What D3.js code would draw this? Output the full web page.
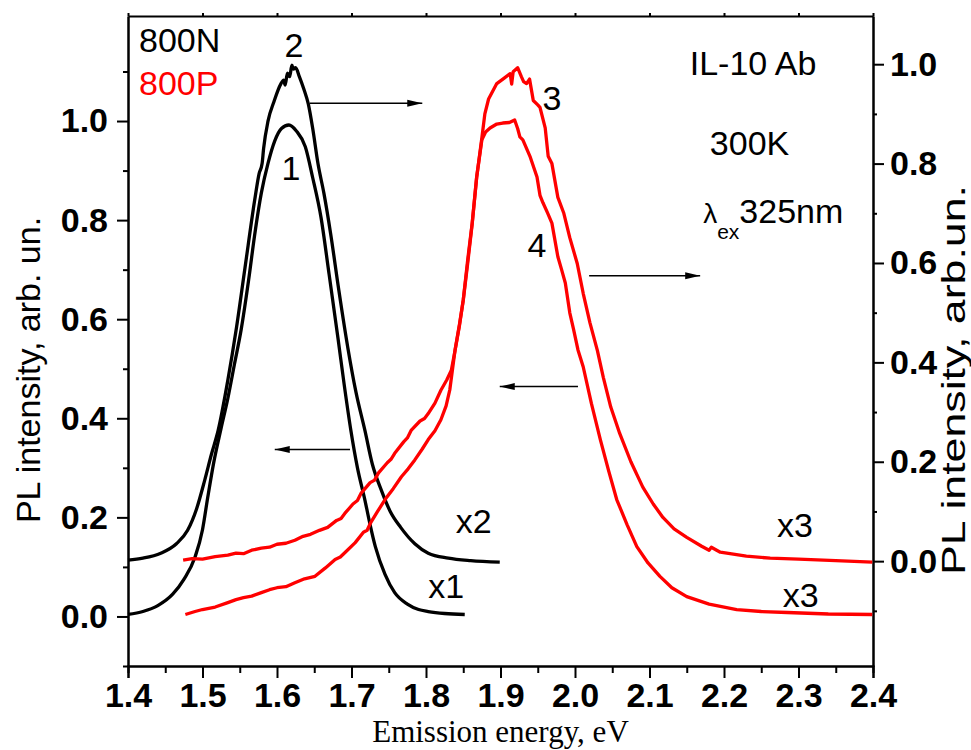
<!DOCTYPE html>
<html>
<head>
<meta charset="utf-8">
<script src="https://cdn.jsdelivr.net/npm/d3@7/dist/d3.min.js"></script>
<style>
  body { margin: 0; background: #fff; }
  text { font-family: "Liberation Sans", Arial, sans-serif; }
  .tick text { font-weight: bold; font-size: 34px; fill: #000; }
  .tick line, .domain { stroke: #000; stroke-width: 2; }
</style>
</head>
<body>
<div id="chart"></div>
<script>
// PL spectra, [energy eV, intensity]
// curve 1: 800N, left axis
var curve1 = [[1.400,0.004],[1.420,0.010],[1.440,0.022],[1.460,0.045],[1.475,0.075],[1.490,0.120],[1.500,0.175],
  [1.507,0.240],[1.515,0.310],[1.525,0.380],[1.534,0.440],[1.543,0.510],[1.552,0.580],[1.562,0.680],[1.570,0.770],
  [1.579,0.855],[1.588,0.915],[1.597,0.960],[1.606,0.985],[1.616,0.992],[1.626,0.980],[1.638,0.948],[1.648,0.885],
  [1.659,0.806],[1.670,0.690],[1.682,0.560],[1.690,0.470],[1.699,0.377],[1.708,0.300],[1.718,0.235],[1.725,0.185],
  [1.732,0.141],[1.745,0.085],[1.758,0.048],[1.775,0.025],[1.790,0.014],[1.803,0.010],[1.825,0.006],[1.852,0.004]]

// curve 2: 800N, right axis
var curve2 = [[1.400,0.002],[1.420,0.006],[1.444,0.016],[1.465,0.035],[1.480,0.062],[1.492,0.105],[1.503,0.163],
  [1.512,0.215],[1.521,0.263],[1.534,0.364],[1.545,0.464],[1.557,0.590],[1.570,0.726],[1.576,0.780],[1.580,0.800],
  [1.582,0.830],[1.588,0.886],[1.596,0.925],[1.605,0.960],[1.609,0.968],[1.611,0.958],[1.614,0.982],[1.617,0.975],
  [1.620,0.998],[1.622,0.990],[1.625,0.993],[1.630,0.975],[1.636,0.950],[1.642,0.920],[1.648,0.870],[1.655,0.800],
  [1.663,0.740],[1.672,0.659],[1.683,0.545],[1.695,0.430],[1.706,0.340],[1.718,0.263],[1.728,0.195],[1.740,0.143],
  [1.752,0.100],[1.766,0.068],[1.785,0.035],[1.803,0.016],[1.830,0.006],[1.860,0.001],[1.899,-0.002]]

// curve 3: 800P, right axis
var curve3 = [[1.474,0.002],[1.486,0.005],[1.500,0.004],[1.517,0.009],[1.534,0.012],[1.545,0.016],[1.555,0.015],
  [1.566,0.022],[1.579,0.026],[1.590,0.028],[1.600,0.034],[1.612,0.036],[1.624,0.042],[1.635,0.050],[1.645,0.054],
  [1.657,0.062],[1.668,0.068],[1.680,0.082],[1.686,0.086],[1.691,0.096],[1.702,0.115],[1.708,0.122],[1.713,0.137],
  [1.725,0.158],[1.731,0.163],[1.736,0.177],[1.748,0.198],[1.753,0.205],[1.758,0.217],[1.770,0.240],[1.775,0.248],
  [1.780,0.263],[1.792,0.282],[1.798,0.287],[1.803,0.297],[1.812,0.318],[1.820,0.344],[1.828,0.365],[1.834,0.384],
  [1.839,0.424],[1.845,0.475],[1.850,0.525],[1.856,0.600],[1.862,0.679],[1.868,0.772],[1.875,0.852],[1.879,0.900],
  [1.884,0.930],[1.895,0.961],[1.905,0.972],[1.913,0.981],[1.915,0.960],[1.917,0.985],[1.923,0.993],[1.928,0.975],
  [1.931,0.965],[1.935,0.961],[1.939,0.970],[1.944,0.927],[1.950,0.918],[1.953,0.913],[1.960,0.872],[1.964,0.815],
  [1.969,0.800],[1.977,0.732],[1.985,0.700],[1.993,0.651],[2.003,0.599],[2.011,0.539],[2.020,0.480],[2.030,0.424],
  [2.038,0.370],[2.048,0.310],[2.060,0.257],[2.075,0.200],[2.091,0.149],[2.105,0.115],[2.118,0.088],[2.133,0.065],
  [2.150,0.048],[2.170,0.030],[2.180,0.022],[2.183,0.028],[2.195,0.018],[2.230,0.010],[2.262,0.006],[2.300,0.004],
  [2.350,0.001],[2.399,-0.002]]

// curve 4: 800P, left axis
var curve4 = [[1.477,0.004],[1.490,0.010],[1.500,0.014],[1.517,0.019],[1.534,0.028],[1.545,0.034],[1.555,0.038],
  [1.566,0.041],[1.579,0.048],[1.590,0.054],[1.600,0.058],[1.612,0.060],[1.624,0.068],[1.637,0.076],[1.651,0.081],
  [1.665,0.098],[1.678,0.115],[1.685,0.120],[1.692,0.130],[1.705,0.149],[1.716,0.170],[1.721,0.174],[1.726,0.190],
  [1.735,0.212],[1.745,0.236],[1.756,0.258],[1.767,0.282],[1.776,0.298],[1.785,0.316],[1.795,0.338],[1.803,0.357],
  [1.812,0.375],[1.820,0.397],[1.827,0.425],[1.832,0.458],[1.839,0.538],[1.845,0.590],[1.850,0.639],[1.856,0.720],
  [1.862,0.794],[1.868,0.887],[1.875,0.962],[1.880,0.978],[1.886,0.986],[1.895,0.994],[1.903,0.996],[1.912,0.997],
  [1.919,1.002],[1.923,0.985],[1.926,0.968],[1.930,0.962],[1.940,0.927],[1.949,0.887],[1.953,0.850],[1.957,0.835],
  [1.963,0.815],[1.969,0.794],[1.977,0.726],[1.982,0.700],[1.987,0.673],[1.993,0.613],[1.998,0.580],[2.004,0.538],
  [2.011,0.504],[2.022,0.430],[2.034,0.357],[2.045,0.295],[2.056,0.236],[2.070,0.185],[2.083,0.141],[2.098,0.108],
  [2.114,0.081],[2.130,0.058],[2.150,0.040],[2.180,0.025],[2.217,0.014],[2.250,0.010],[2.285,0.008],[2.340,0.005],
  [2.399,0.004]]

// ticks
var xTicks = [1.4, 1.5, 1.6, 1.7, 1.8, 1.9, 2.0, 2.1, 2.2, 2.3, 2.4]
var xMinor = [1.45, 1.55, 1.65, 1.75, 1.85, 1.95, 2.05, 2.15, 2.25, 2.35]
var leftTicks = [0.0, 0.2, 0.4, 0.6, 0.8, 1.0]
var leftMinor = [-0.1, 0.1, 0.3, 0.5, 0.7, 0.9, 1.1]
var rightTicks = [0.0, 0.2, 0.4, 0.6, 0.8, 1.0]
var rightMinor = [-0.1, 0.1, 0.3, 0.5, 0.7, 0.9]

// annotations, placed in left-axis units
var labels = [
  { t: '800N', x: 1.4148, y: 1.139, c: '#000', a: 'start' },
  { t: '800P', x: 1.4148, y: 1.052, c: '#ff0000', a: 'start' },
  { t: '2', x: 1.6228, y: 1.129, c: '#000', a: 'middle' },
  { t: '1', x: 1.6188, y: 0.881, c: '#000', a: 'middle' },
  { t: '3', x: 1.969, y: 1.022, c: '#000', a: 'middle' },
  { t: '4', x: 1.949, y: 0.726, c: '#000', a: 'middle' },
  { t: 'IL-10 Ab', x: 2.154, y: 1.093, c: '#000', a: 'start' },
  { t: '300K', x: 2.181, y: 0.931, c: '#000', a: 'start' },
  { t: 'x2', x: 1.840, y: 0.169, c: '#000', a: 'start' },
  { t: 'x1', x: 1.803, y: 0.038, c: '#000', a: 'start' },
  { t: 'x3', x: 2.271, y: 0.161, c: '#000', a: 'start' },
  { t: 'x3', x: 2.279, y: 0.020, c: '#000', a: 'start' }
]
var arrows = [
  { x1: 1.644, x2: 1.795, y: 1.036 },
  { x1: 1.698, x2: 1.597, y: 0.337 },
  { x1: 2.019, x2: 2.168, y: 0.6875 },
  { x1: 2.004, x2: 1.899, y: 0.464 }
]

var margin = { top: 16, right: 98, bottom: 84, left: 128 },
    width = 971 - margin.left - margin.right,
    height = 750 - margin.top - margin.bottom;

var svgRoot = d3.select('#chart').append('svg')
    .attr('width', 971).attr('height', 750)
var svg = svgRoot.append('g')
    .attr('transform', 'translate(' + margin.left + ',' + margin.top + ')')

var x = d3.scaleLinear().domain([1.4, 2.4]).range([0, width])
var yL = d3.scaleLinear().domain([-0.1, 1.212]).range([height, 0])
var yR = d3.scaleLinear().domain([-0.211, 1.097]).range([height, 0])

// axes
svg.append('g').attr('transform', 'translate(0,' + height + ')')
    .call(d3.axisBottom(x).tickValues(xTicks).tickSize(12).tickPadding(5).tickFormat(d3.format('.1f')))
svg.append('g').attr('transform', 'translate(0,' + height + ')')
    .call(d3.axisBottom(x).tickValues(xMinor).tickSize(7).tickFormat(''))
svg.append('g')
    .call(d3.axisTop(x).tickValues(xTicks).tickSize(3).tickFormat('').tickSizeOuter(0))
svg.append('g')
    .call(d3.axisLeft(yL).tickValues(leftTicks).tickSize(11).tickPadding(9).tickFormat(d3.format('.1f')).tickSizeOuter(0))
svg.append('g')
    .call(d3.axisLeft(yL).tickValues(leftMinor).tickSize(5).tickFormat('').tickSizeOuter(0))
svg.append('g').attr('transform', 'translate(' + width + ',0)')
    .call(d3.axisRight(yR).tickValues(rightTicks).tickSize(11).tickPadding(6).tickFormat(d3.format('.1f')).tickSizeOuter(0))
svg.append('g').attr('transform', 'translate(' + width + ',0)')
    .call(d3.axisRight(yR).tickValues(rightMinor).tickSize(4).tickFormat('').tickSizeOuter(0))

svg.selectAll('.tick text').style('font-family', '"Liberation Sans", Arial, sans-serif')

// axis titles
svg.append('text')
    .attr('x', width / 2)
    .attr('y', height + 76)
    .attr('text-anchor', 'middle')
    .style('font-family', '"Liberation Serif", "Times New Roman", serif')
    .style('font-size', '31px')
    .text('Emission energy, eV')

svgRoot.append('text')
    .attr('transform', 'translate(40,370) rotate(-90)')
    .attr('text-anchor', 'middle')
    .style('font-size', '34px')
    .text('PL intensity, arb. un.')

svgRoot.append('text')
    .attr('transform', 'translate(965,380) rotate(-90)')
    .attr('text-anchor', 'middle')
    .attr('textLength', 390)
    .attr('lengthAdjust', 'spacingAndGlyphs')
    .style('font-size', '34px')
    .text('PL intensity, arb.un.')

// curves
var lineL = d3.line().x(d => x(d[0])).y(d => yL(d[1]))
var lineR = d3.line().x(d => x(d[0])).y(d => yR(d[1]))
var smoothL = d3.line().curve(d3.curveMonotoneX).x(d => x(d[0])).y(d => yL(d[1]))
var smoothR = d3.line().curve(d3.curveMonotoneX).x(d => x(d[0])).y(d => yR(d[1]))

var series = [
  { data: curve1, line: smoothL, color: '#000' },
  { data: curve2, line: smoothR, color: '#000' },
  { data: curve3, line: lineR, color: '#ff0000' },
  { data: curve4, line: lineL, color: '#ff0000' }
]
svg.selectAll('.curve')
    .data(series)
    .enter()
    .append('path')
    .attr('class', 'curve')
    .attr('d', d => d.line(d.data))
    .attr('fill', 'none')
    .attr('stroke', d => d.color)
    .attr('stroke-width', 3.3)
    .attr('stroke-linejoin', 'round')

// arrows
svgRoot.append('defs').append('marker')
    .attr('id', 'head')
    .attr('markerUnits', 'userSpaceOnUse')
    .attr('markerWidth', 16).attr('markerHeight', 8)
    .attr('refX', 15).attr('refY', 4)
    .attr('orient', 'auto')
    .append('path')
    .attr('d', 'M0,0.5 L15,4 L0,7.5 Z')
    .attr('fill', '#000')

svg.selectAll('.arrow')
    .data(arrows)
    .enter()
    .append('line')
    .attr('class', 'arrow')
    .attr('x1', d => x(d.x1)).attr('x2', d => x(d.x2))
    .attr('y1', d => yL(d.y)).attr('y2', d => yL(d.y))
    .attr('stroke', '#000')
    .attr('stroke-width', 1.5)
    .attr('marker-end', 'url(#head)')

// text labels
svg.selectAll('.note')
    .data(labels)
    .enter()
    .append('text')
    .attr('class', 'note')
    .attr('x', d => x(d.x))
    .attr('y', d => yL(d.y))
    .attr('text-anchor', d => d.a)
    .attr('fill', d => d.c)
    .style('font-size', '34px')
    .text(d => d.t)

// lambda_ex 325nm
var lam = svg.append('text')
    .attr('x', x(2.172))
    .attr('y', yL(0.794))
    .style('font-size', '34px')
lam.append('tspan').style('font-size', '28px').text('λ')
lam.append('tspan').attr('dy', 16).style('font-size', '21px').text('ex')
lam.append('tspan').attr('dy', -16).text('325nm')
</script>
</body>
</html>
